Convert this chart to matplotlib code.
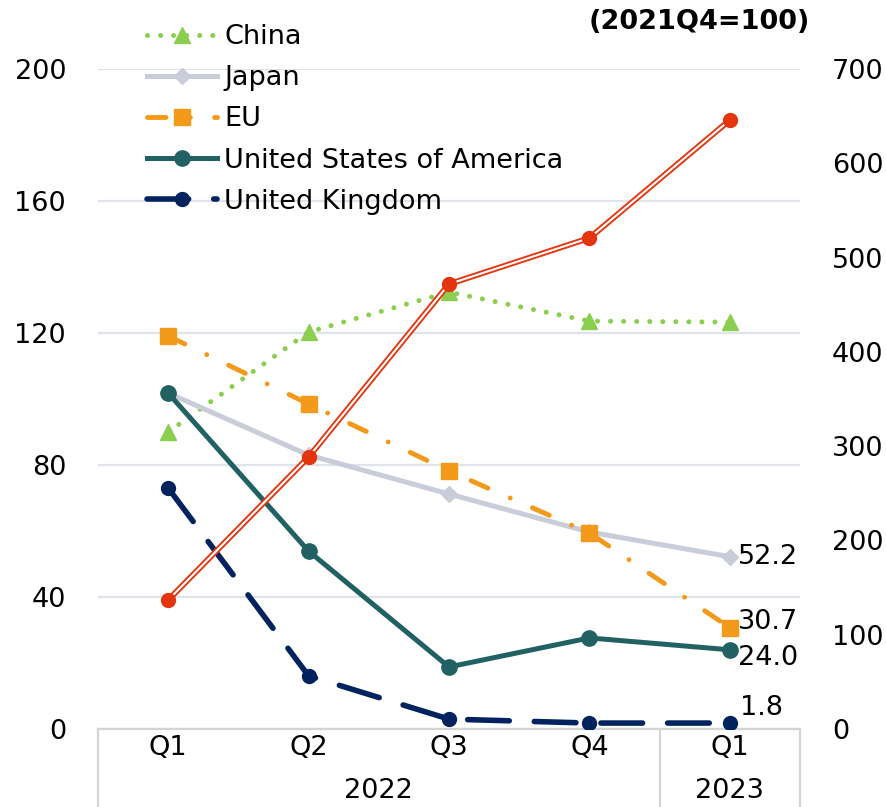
import matplotlib
matplotlib.use("Agg")
import matplotlib.pyplot as plt
import matplotlib.transforms as mtransforms

# ======================================
# Data (2021Q4 = 100)
# ======================================

quarters = ["Q1", "Q2", "Q3", "Q4", "Q1"]
years = ["2022", "2023"]

china = [90.0, 120.3, 132.4, 123.6, 123.3]
japan = [101.8, 83.0, 71.2, 59.7, 52.2]
eu = [119.1, 98.5, 78.2, 59.4, 30.7]
usa = [101.8, 53.9, 18.8, 27.6, 24.0]
uk = [73.0, 16.1, 3.0, 1.8, 1.8]

# right axis series
other = [136.8, 288.4, 471.9, 520.7, 645.8]

left_ticks = [0, 40, 80, 120, 160, 200]
right_ticks = [0, 100, 200, 300, 400, 500, 600, 700]

# ======================================
# Styles
# ======================================

c_china = "#8cce4f"
c_japan = "#c9cdd9"
c_eu = "#f39a1b"
c_usa = "#216163"
c_uk = "#00235f"
c_red = "#e4350e"
c_grid = "#dfe3ea"
c_axis = "#d4d4d4"

fs = 19.5
plt.rcParams["font.family"] = ["DejaVu Sans"]

fig = plt.figure(figsize=(8.87, 8.07), dpi=100)
ax = fig.add_axes([98 / 887, 1 - 729 / 807, 702 / 887, 660 / 807])
ax2 = ax.twinx()

x = list(range(len(quarters)))

ax.plot(x, china, color=c_china, lw=3.6, dashes=[0.01, 2.6],
        dash_capstyle="round", marker="^", ms=12, label="China", zorder=3)
ax.plot(x, japan, color=c_japan, lw=3.6, marker="D", ms=8,
        label="Japan", zorder=3)
ax.plot(x, eu, color=c_eu, lw=3.5, dashes=[3.8, 5.0, 0.01, 5.0],
        dash_capstyle="round", marker="s", ms=11, label="EU", zorder=3)
ax.plot(x, usa, color=c_usa, lw=3.6, marker="o", ms=11,
        label="United States of America", zorder=4)
ax.plot(x, uk, color=c_uk, lw=4, dashes=[7.5, 4.5],
        dash_capstyle="round", marker="o", ms=10,
        label="United Kingdom", zorder=4)

# double red line on the right axis
ax2.plot(x, other, color=c_red, lw=4.2, solid_capstyle="butt", zorder=3)
ax2.plot(x, other, color="white", lw=1.5, solid_capstyle="butt", zorder=4)
ax2.plot(x, other, color=c_red, lw=0, marker="o", ms=10, zorder=5)

# ======================================
# Axes
# ======================================

ax.set_xlim(-0.5, 4.5)
ax.set_ylim(0, 200)
ax2.set_ylim(0, 700)

ax.set_yticks(left_ticks)
ax2.set_yticks(right_ticks)
ax.set_xticks(x)
ax.set_xticklabels(quarters)

ax.tick_params(axis="y", length=0, pad=23, labelsize=fs)
ax2.tick_params(axis="y", length=0, pad=23, labelsize=fs)
ax.tick_params(axis="x", length=0, pad=4, labelsize=fs)

ax.grid(axis="y", color=c_grid, lw=1.6)
ax.set_axisbelow(True)

for a in (ax, ax2):
    for side in ("top", "left", "right", "bottom"):
        a.spines[side].set_visible(False)

ax.spines["bottom"].set_visible(True)
ax.spines["bottom"].set_color(c_axis)
ax.spines["bottom"].set_linewidth(1.6)

# category separators and year labels under the axis
trans = mtransforms.blended_transform_factory(ax.transData, ax.transAxes)
for xs in (-0.5, 3.5, 4.5):
    ax.plot([xs, xs], [0, -0.12], transform=trans, color=c_axis,
            lw=1.6, clip_on=False)

ax.text(1.5, -0.094, years[0], transform=trans, ha="center",
        va="center", fontsize=fs)
ax.text(4.0, -0.094, years[1], transform=trans, ha="center",
        va="center", fontsize=fs)

# value labels at the last point
last = x[-1]
ax.annotate(f"{japan[-1]:.1f}", (last, japan[-1]), xytext=(6, 0),
            textcoords="offset points", ha="left", va="center", fontsize=fs)
ax.annotate(f"{eu[-1]:.1f}", (last, eu[-1]), xytext=(6, 4),
            textcoords="offset points", ha="left", va="center", fontsize=fs)
ax.annotate(f"{usa[-1]:.1f}", (last, usa[-1]), xytext=(6, -6),
            textcoords="offset points", ha="left", va="center", fontsize=fs)
ax.annotate(f"{uk[-1]:.1f}", (last, uk[-1]), xytext=(7, 11),
            textcoords="offset points", ha="left", va="center", fontsize=fs)

fig.text(810 / 887, 1 - 22 / 807, "(2021Q4=100)", ha="right",
         va="center", fontsize=fs, fontweight="bold")

ax.legend(loc="upper left", bbox_to_anchor=(147 / 887, 1 - 24 / 807),
          bbox_transform=fig.transFigure, frameon=False, fontsize=fs,
          handlelength=2.6, handletextpad=0.25, labelspacing=0.56,
          borderpad=0, borderaxespad=0)

fig.savefig("out.png", dpi=100)
